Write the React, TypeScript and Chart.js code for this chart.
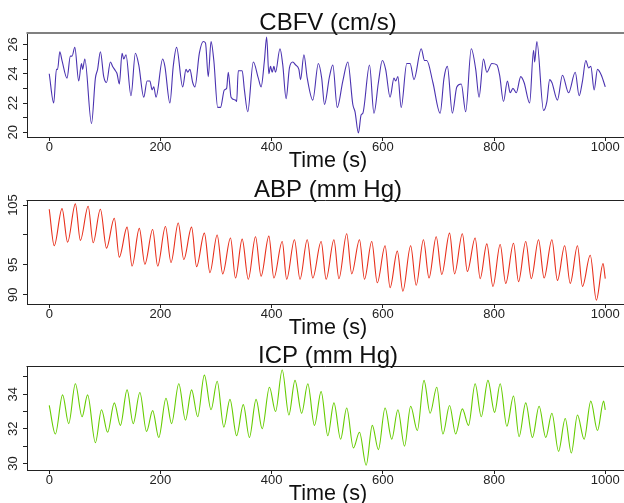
import React, { useEffect, useRef } from "react";
import { Chart, registerables } from "chart.js";

Chart.register(...registerables);

const FONT = '"Liberation Sans", Arial, Helvetica, sans-serif';

// ---- shared x axis ----
const X_TICKS = [0, 200, 400, 600, 800, 1000];
const X_MIN = -40;
const X_MAX = 1033.7;
const X_LABEL = "Time (s)";

// ---- CBFV (cm/s) ----
const CBFV_T = [
  0, 8, 13, 15, 19, 23, 32, 38, 41, 46, 53, 58, 60, 64, 76, 83, 87, 92, 98, 103,
  110, 114, 119, 122, 126, 131, 134, 138, 147, 155, 161, 170, 176, 181, 185, 188, 192, 204, 208, 217,
  223, 229, 240, 246, 249, 253, 258, 262, 270, 277, 281, 286, 291, 296, 303, 308, 315, 319, 322, 327,
  335, 337, 340, 347, 351, 357, 367, 376, 381, 387, 391, 395, 398, 401, 404, 407, 415, 420, 426, 432,
  438, 443, 449, 452, 458, 464, 474, 484, 490, 495, 504, 510, 518, 528, 537, 546, 550, 556, 561, 564,
  576, 584, 592, 599, 605, 613, 620, 623, 627, 633, 643, 649, 656, 669, 675, 679, 690, 703, 710, 716,
  725, 733, 741, 749, 759, 767, 773, 781, 787, 796, 805, 810, 817, 824, 829, 834, 840, 848, 854, 864,
  871, 873, 877, 889, 895, 900, 904, 914, 923, 934, 946, 953, 959, 965, 970, 974, 980, 986, 993, 1000,
];
const CBFV_V = [
  24.0, 22.0, 24.3, 24.3, 25.5, 24.9, 23.7, 25.2, 25.2, 25.8, 23.5, 24.7, 24.3, 25.0, 20.6, 23.7, 24.3, 25.5, 23.8, 23.4,
  24.8, 24.5, 24.2, 24.0, 23.3, 25.4, 25.0, 25.3, 22.5, 25.4, 24.6, 22.4, 23.5, 23.5, 22.9, 23.1, 22.4, 25.0, 24.5, 22.0,
  24.5, 25.8, 23.1, 24.3, 24.1, 24.3, 23.4, 23.1, 25.4, 26.2, 26.1, 23.8, 26.2, 24.9, 21.7, 21.7, 22.9, 23.0, 24.1, 22.4,
  22.2, 22.1, 24.2, 24.2, 22.9, 21.4, 24.8, 23.7, 23.1, 24.9, 26.5, 24.0, 24.5, 24.1, 24.5, 24.1, 25.7, 24.6, 22.3, 24.4,
  24.8, 24.6, 24.3, 23.6, 25.3, 23.7, 22.2, 24.7, 23.7, 21.9, 23.8, 24.6, 21.7, 23.5, 24.8, 21.9, 21.4, 19.95, 21.2, 21.3,
  24.6, 21.3, 23.4, 24.9, 24.3, 22.4, 23.7, 23.5, 23.8, 21.7, 24.7, 24.7, 23.6, 25.7, 24.9, 24.9, 23.4, 21.3, 23.7, 24.5,
  21.3, 23.1, 23.3, 21.4, 25.7, 24.3, 22.4, 25.0, 24.1, 24.7, 24.6, 23.9, 22.1, 23.5, 22.7, 23.0, 22.7, 23.8, 23.4, 22.0,
  25.6, 24.8, 26.2, 21.5, 22.1, 23.6, 23.4, 22.2, 23.9, 22.7, 24.1, 22.5, 23.5, 24.9, 24.4, 24.5, 22.9, 24.3, 23.9, 23.1,
];
const CBFV_TICKS = [20, 21, 22, 23, 24, 25, 26];
const CBFV_LABELED = [20, 22, 24, 26];
const CBFV_TITLE = "CBFV (cm/s)";

// ---- ABP (mm Hg) ----
const ABP_T = [
  0, 9, 23, 33, 47, 56, 70, 79, 92, 103, 117, 126, 140, 149, 162, 172, 186, 195, 209, 219,
  232, 242, 256, 265, 279, 289, 302, 312, 326, 335, 347, 358, 371, 381, 395, 404, 419, 427, 441, 451,
  464, 474, 489, 498, 512, 521, 535, 544, 558, 567, 580, 590, 604, 613, 626, 636, 650, 660, 673, 683,
  696, 706, 720, 729, 743, 752, 766, 775, 787, 798, 811, 821, 835, 844, 857, 867, 880, 890, 904, 914,
  927, 937, 950, 959, 973, 984, 996, 1000,
];
const ABP_V = [
  104.3, 98.2, 104.4, 98.8, 105.2, 99.1, 104.8, 98.7, 104.3, 97.8, 102.8, 96.3, 101.3, 94.8, 101.1, 95.1, 100.9, 94.8, 101.4, 95.4,
  102.0, 95.9, 101.3, 94.7, 100.3, 93.7, 100.0, 93.5, 99.5, 92.8, 99.3, 92.6, 99.7, 93.1, 99.8, 92.8, 98.9, 92.6, 99.2, 92.6,
  99.2, 92.8, 98.9, 92.6, 99.2, 92.7, 100.2, 93.5, 99.2, 92.6, 98.9, 92.0, 98.2, 91.2, 97.3, 90.6, 98.2, 91.6, 99.2, 92.8,
  99.7, 93.4, 100.3, 93.5, 100.2, 93.9, 99.5, 92.7, 98.5, 91.4, 98.4, 91.9, 98.6, 92.2, 98.9, 92.7, 99.2, 92.8, 99.2, 92.4,
  98.2, 91.9, 98.2, 91.4, 96.6, 89.1, 95.2, 92.7,
];
const ABP_TICKS = [90, 95, 100, 105];
const ABP_LABELED = [90, 95, 105];
const ABP_TITLE = "ABP (mm Hg)";

// ---- ICP (mm Hg) ----
const ICP_T = [
  0, 11, 24, 35, 47, 59, 69, 83, 94, 105, 117, 128, 140, 151, 163, 175, 186, 197, 210, 220,
  233, 245, 256, 267, 279, 291, 302, 314, 325, 337, 349, 360, 372, 383, 396, 407, 419, 431, 442, 454,
  465, 477, 489, 501, 512, 524, 535, 547, 558, 570, 581, 592, 604, 616, 627, 639, 650, 662, 674, 685,
  697, 708, 720, 731, 743, 754, 766, 777, 789, 801, 811, 823, 835, 845, 857, 869, 881, 893, 904, 916,
  928, 939, 950, 962, 974, 986, 997, 1000,
];
const ICP_V = [
  33.35, 31.7, 33.96, 32.3, 34.6, 32.7, 33.96, 31.2, 33.1, 31.8, 33.5, 32.2, 34.25, 32.3, 34.1, 31.85, 33.05, 31.5, 33.77, 32.3,
  34.6, 32.5, 34.25, 32.7, 35.1, 33.1, 34.75, 32.1, 33.7, 31.6, 33.4, 31.5, 33.7, 32.0, 34.4, 33.0, 35.4, 32.8, 34.8, 32.9,
  34.6, 32.2, 34.15, 31.6, 33.5, 31.4, 33.2, 30.9, 31.8, 29.9, 32.2, 30.8, 33.2, 31.4, 33.1, 31.0, 33.3, 31.9, 34.8, 32.9,
  34.4, 31.7, 33.35, 31.7, 33.15, 32.2, 34.6, 32.7, 34.8, 32.95, 34.6, 32.15, 33.9, 31.55, 33.5, 31.5, 33.3, 31.5, 32.9, 30.7,
  32.6, 30.6, 32.8, 31.4, 33.6, 31.9, 33.6, 33.1,
];
const ICP_TICKS = [30, 31, 32, 33, 34, 35];
const ICP_LABELED = [30, 32, 34];
const ICP_TITLE = "ICP (mm Hg)";

type PanelSpec = {
  title: string;
  t: number[];
  v: number[];
  yTicks: number[];
  yLabeled: number[];
  yMin: number;
  yMax: number;
  color: string;
  canvasTop: number;
  canvasH: number;
  areaTop: number;
  areaBottom: number;
  yPad: number;
  topLineColor: string;
  topLineWidth: number;
};

const PANELS: PanelSpec[] = [
  {
    title: CBFV_TITLE, t: CBFV_T, v: CBFV_V, yTicks: CBFV_TICKS, yLabeled: CBFV_LABELED,
    yMin: 19.68, yMax: 26.78, color: "#4a32b0",
    canvasTop: 0, canvasH: 174, areaTop: 33, areaBottom: 137, yPad: 2.5,
    topLineColor: "#808080", topLineWidth: 2,
  },
  {
    title: ABP_TITLE, t: ABP_T, v: ABP_V, yTicks: ABP_TICKS, yLabeled: ABP_LABELED,
    yMin: 88.46, yMax: 105.84, color: "#e8301c",
    canvasTop: 174, canvasH: 168, areaTop: 200, areaBottom: 304, yPad: -1.1,
    topLineColor: "#222", topLineWidth: 1,
  },
  {
    title: ICP_TITLE, t: ICP_T, v: ICP_V, yTicks: ICP_TICKS, yLabeled: ICP_LABELED,
    yMin: 29.62, yMax: 35.63, color: "#66cc00",
    canvasTop: 342, canvasH: 161, areaTop: 366, areaBottom: 470, yPad: 2.5,
    topLineColor: "#222", topLineWidth: 1,
  },
];

function Panel({ spec }: { spec: PanelSpec }) {
  const ref = useRef<HTMLCanvasElement>(null);
  useEffect(() => {
    const canvas = ref.current!;
    const framePlugin = {
      id: "frame",
      afterDraw(chart: any) {
        const { ctx, chartArea } = chart;
        ctx.save();
        // top border of the box
        ctx.strokeStyle = spec.topLineColor;
        ctx.lineWidth = spec.topLineWidth;
        const yTop = spec.topLineWidth === 1 ? chartArea.top + 0.5 : chartArea.top;
        ctx.beginPath();
        ctx.moveTo(chartArea.left - 0.5, yTop);
        ctx.lineTo(chart.width, yTop);
        ctx.stroke();
        // title
        ctx.fillStyle = "#111";
        ctx.textAlign = "center";
        ctx.textBaseline = "alphabetic";
        ctx.font = `24px ${FONT}`;
        ctx.fillText(spec.title, 328, chartArea.top - 3);
        // x label
        ctx.font = `21.6px ${FONT}`;
        ctx.fillText(X_LABEL, 328, chartArea.bottom + 29.5);
        ctx.restore();
      },
    };
    const chart = new Chart(canvas, {
      type: "line",
      data: {
        datasets: [
          {
            data: spec.t.map((x, i) => ({ x, y: spec.v[i] })),
            borderColor: spec.color,
            borderWidth: 1.1,
            pointRadius: 0,
            fill: false,
            cubicInterpolationMode: "monotone",
          },
        ],
      },
      options: {
        responsive: false,
        maintainAspectRatio: false,
        animation: false,
        events: [],
        layout: { padding: { top: spec.areaTop - spec.canvasTop, left: 0, right: 0, bottom: 0 } },
        plugins: {
          legend: { display: false },
          tooltip: { enabled: false },
          title: { display: false },
        },
        scales: {
          x: {
            type: "linear",
            min: X_MIN,
            max: X_MAX,
            afterBuildTicks: (s: any) => {
              s.ticks = X_TICKS.map((value) => ({ value }));
            },
            afterFit: (s: any) => {
              s.height = spec.canvasTop + spec.canvasH - spec.areaBottom;
            },
            grid: { display: true, drawOnChartArea: false, drawTicks: true, tickLength: 4, color: "#222", tickWidth: 1 },
            border: { display: true, color: "#222", width: 1 },
            ticks: {
              font: { family: FONT, size: 13 },
              color: "#222",
              padding: -1.5,
              minRotation: 0,
              maxRotation: 0,
              autoSkip: false,
              callback: (v: any) => String(v),
            },
          },
          y: {
            type: "linear",
            min: spec.yMin,
            max: spec.yMax,
            afterBuildTicks: (s: any) => {
              s.ticks = spec.yTicks.map((value) => ({ value }));
            },
            afterFit: (s: any) => {
              s.width = 27;
            },
            grid: { display: true, drawOnChartArea: false, drawTicks: true, tickLength: 4, color: "#222", tickWidth: 1 },
            border: { display: true, color: "#222", width: 1 },
            ticks: {
              font: { family: FONT, size: 13 },
              color: "#222",
              padding: spec.yPad,
              minRotation: 90,
              maxRotation: 90,
              crossAlign: "center",
              autoSkip: false,
              callback: (v: any) => (spec.yLabeled.includes(v) ? String(v) : ""),
            },
          },
        },
      } as any,
      plugins: [framePlugin],
    });
    return () => chart.destroy();
  }, [spec]);
  return (
    <canvas
      ref={ref}
      width={624}
      height={spec.canvasH}
      style={{ position: "absolute", left: 0, top: spec.canvasTop, width: 624, height: spec.canvasH }}
    />
  );
}

export default function App() {
  return (
    <div style={{ position: "absolute", left: 0, top: 0, width: 624, height: 503, overflow: "hidden", background: "#fff" }}>
      {PANELS.map((p) => (
        <Panel key={p.title} spec={p} />
      ))}
    </div>
  );
}
